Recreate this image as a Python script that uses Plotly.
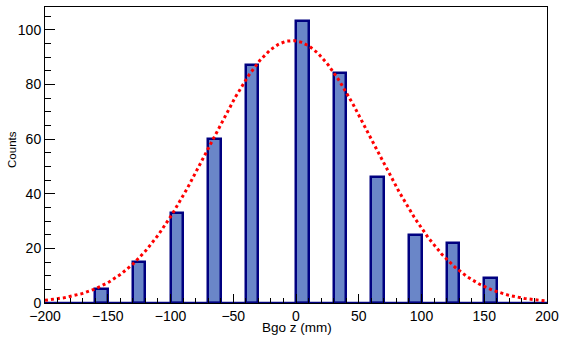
import numpy as np
import plotly.graph_objects as go

# Histogram data (bin centers, counts), bin width 10 mm
bin_centers = [-155, -125, -95, -65, -35, 5, 35, 65, 95, 125, 155]
counts = [5, 15, 33, 60, 87, 103, 84, 46, 25, 22, 9]
bin_width = 10

# Gaussian fit parameters
fit_amp = 96.0
fit_mean = -3.0
fit_sigma = 65.0

x_range = [-200, 200]
y_range = [0, 108.3]

xf = np.linspace(x_range[0], x_range[1], 401)
yf = fit_amp * np.exp(-0.5 * ((xf - fit_mean) / fit_sigma) ** 2)

fig = go.Figure()

# baseline for empty bins
fig.add_trace(go.Scatter(x=x_range, y=[0, 0], mode="lines",
                         line=dict(color="#000080", width=2.5),
                         hoverinfo="skip", showlegend=False))

fig.add_trace(go.Bar(x=bin_centers, y=counts, width=bin_width,
                     marker=dict(color="#6A86C8",
                                 line=dict(color="#000080", width=2.5)),
                     showlegend=False))

fig.add_trace(go.Scatter(x=xf, y=yf, mode="lines",
                         line=dict(color="#FF0000", width=3, dash="dot"),
                         showlegend=False))

tickfont = dict(family="Liberation Sans", size=14, color="black")

fig.update_layout(
    width=567, height=337,
    margin=dict(l=45, r=20, t=7, b=34, autoexpand=False),
    paper_bgcolor="white", plot_bgcolor="white",
    font=tickfont,
    bargap=0,
    xaxis=dict(range=x_range, dtick=50, tick0=-200, ticks="inside", ticklen=9,
               tickcolor="black", tickwidth=1,
               minor=dict(dtick=10, ticks="inside", ticklen=5, tickcolor="black"),
               showline=True, linecolor="black", linewidth=1, mirror=True,
               showgrid=False, zeroline=False, automargin=False,
               tickfont=tickfont),
    yaxis=dict(range=y_range, dtick=20, tick0=0, ticks="inside", ticklen=10,
               tickcolor="black", tickwidth=1,
               minor=dict(dtick=5, ticks="inside", ticklen=6, tickcolor="black"),
               showline=True, linecolor="black", linewidth=1, mirror=True,
               showgrid=False, zeroline=False, automargin=False,
               tickfont=tickfont),
    annotations=[
        dict(text="Bgo z (mm)", xref="paper", yref="paper", x=0.502, y=-0.082,
             xanchor="center", yanchor="middle", showarrow=False,
             font=dict(family="Liberation Sans", size=13.5, color="black")),
        dict(text="Counts", xref="paper", yref="paper", x=-0.066, y=0.52,
             xanchor="center", yanchor="middle", textangle=-90, showarrow=False,
             font=dict(family="Liberation Sans", size=11.5, color="black")),
    ],
)

fig.write_html("out.html", config={"displayModeBar": False},
               post_script="document.body.style.margin='0';document.body.style.padding='0';")
